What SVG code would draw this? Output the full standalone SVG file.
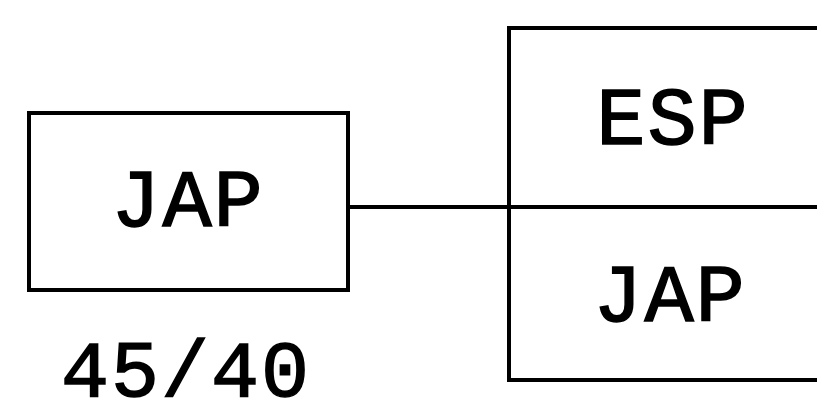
<svg xmlns="http://www.w3.org/2000/svg" width="817" height="420" viewBox="0 0 817 420">
<style>
.box{fill:#fff;stroke:#000;stroke-width:4}
.t{font-family:"Liberation Mono","Courier New",monospace;font-size:82px;fill:#000;stroke:#000;stroke-width:1.5;text-anchor:middle;letter-spacing:2px}
.c{stroke:#000;stroke-width:4;fill:none}
</style>
<rect width="817" height="420" fill="#fff"/>
<g id="connectors">
<line class="c" x1="348" y1="207" x2="817" y2="207"/>
</g>
<g id="node-jap-left">
<rect class="box" x="29" y="113" width="319" height="177"/>
<text class="t" x="188" y="226">JAP</text>
</g>
<g id="node-right">
<rect class="box" x="509" y="28" width="320" height="352"/>
<line class="c" x1="509" y1="207" x2="817" y2="207"/>
<text class="t" x="673" y="144">ESP</text>
<text class="t" x="670" y="321">JAP</text>
</g>
<g id="label">
<text class="t" x="186" y="396" style="font-size:80px">45/40</text>
</g>
</svg>
